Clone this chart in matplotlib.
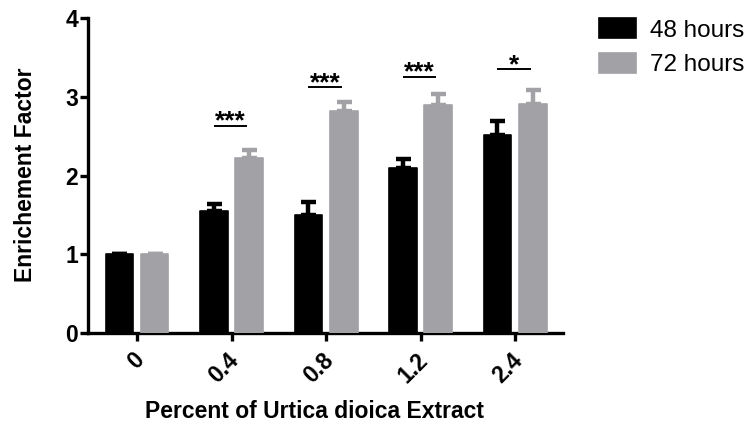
import matplotlib
matplotlib.use("Agg")
import matplotlib.pyplot as plt
import matplotlib.transforms as mtransforms
import numpy as np

# Enrichment factor by extract concentration, two incubation times
concentrations = ["0", "0.4", "0.8", "1.2", "2.4"]
mean_48h = [1.00, 1.55, 1.50, 2.10, 2.52]
sem_48h = [0.00, 0.09, 0.16, 0.11, 0.17]
mean_72h = [1.00, 2.22, 2.82, 2.89, 2.91]
sem_72h = [0.00, 0.11, 0.11, 0.14, 0.18]
series_labels = ["48 hours", "72 hours"]

# Significance marks (48 h vs 72 h) and the height of their underline
sig_groups = [1, 2, 3, 4]
sig_text = ["***", "***", "***", "*"]
sig_height = [2.63, 3.12, 3.25, 3.35]

plt.rcParams["font.family"] = ["Liberation Sans", "DejaVu Sans"]

fig = plt.figure(figsize=(7.51, 4.26), dpi=100)
ax = fig.add_axes([0.117, 0.218, 0.633, 0.740])

black = "#000000"
grey = "#a2a1a6"
x = np.arange(len(concentrations))
width = 0.292
offset = 0.187

err_style = dict(elinewidth=3.2, capsize=5.4, capthick=3.2)
b1 = ax.bar(x - offset, mean_48h, width, color=black, edgecolor=black,
            linewidth=1.2, joinstyle="round", label=series_labels[0], zorder=3)
ax.errorbar(x - offset, mean_48h, yerr=[np.zeros(len(x)), sem_48h],
            fmt="none", ecolor=black, zorder=2, **err_style)
b2 = ax.bar(x + offset, mean_72h, width, color=grey, edgecolor=grey,
            linewidth=1.2, joinstyle="round", label=series_labels[1], zorder=3)
ax.errorbar(x + offset, mean_72h, yerr=[np.zeros(len(x)), sem_72h],
            fmt="none", ecolor=grey, zorder=2, **err_style)

# Significance underlines with stars
for g, txt, h in zip(sig_groups, sig_text, sig_height):
    ax.plot([g - 0.19, g + 0.165], [h, h], color=black, lw=1.4,
            solid_capstyle="butt", clip_on=False)
    ax.text(g - 0.012, h - 0.035, txt, ha="center", va="baseline",
            fontsize=19, fontweight="bold", color=black, clip_on=False)

ax.set_ylim(0, 4)
ax.set_xlim(-0.52, 4.51)
ax.set_yticks([0, 1, 2, 3, 4])
ax.set_xticks(x)
ax.set_xticklabels(concentrations, rotation=45, ha="right",
                   rotation_mode="default")

for side in ("top", "right"):
    ax.spines[side].set_visible(False)
for side in ("left", "bottom"):
    ax.spines[side].set_linewidth(2.4)
ax.tick_params(axis="both", width=2.4, length=6, labelsize=16.5,
               direction="out")
ax.tick_params(axis="y", pad=1)
ax.tick_params(axis="x", pad=5)
for lbl in ax.get_xticklabels() + ax.get_yticklabels():
    lbl.set_fontweight("bold")

# Nudge the slanted category labels so they end just past their tick
shift = mtransforms.ScaledTranslation(12 / 100, 0, fig.dpi_scale_trans)
for tick in ax.xaxis.get_major_ticks():
    tick.label1.set_transform(tick.label1.get_transform() + shift)

ax.set_ylabel("Enrichement Factor", fontsize=16.5, fontweight="bold")
ax.yaxis.set_label_coords(-0.106, 0.503)
ax.set_xlabel("Percent of Urtica dioica Extract", fontsize=16.5,
              fontweight="bold")
ax.xaxis.set_label_coords(0.476, -0.212)

fig.legend(handles=[b1, b2], labels=series_labels, loc="upper left",
           bbox_to_anchor=(0.785, 0.98), frameon=False, fontsize=17.5,
           handlelength=1.52, handleheight=0.9, handletextpad=0.55,
           labelspacing=0.45, borderaxespad=0)

fig.savefig("out.png", dpi=100)
